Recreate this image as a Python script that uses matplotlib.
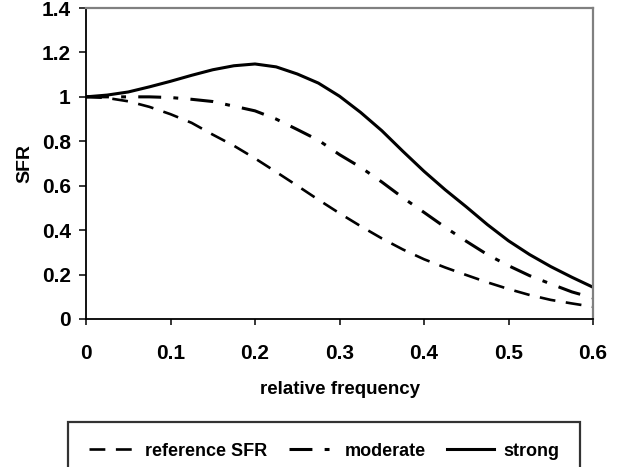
import matplotlib.pyplot as plt

plt.rcParams['font.family'] = ['Liberation Sans', 'DejaVu Sans']
plt.rcParams['font.weight'] = 'bold'

# values
freq = [0, 0.025, 0.05, 0.075, 0.1, 0.125, 0.15, 0.175, 0.2, 0.225, 0.25, 0.275, 0.3,
        0.325, 0.35, 0.375, 0.4, 0.425, 0.45, 0.475, 0.5, 0.525, 0.55, 0.575, 0.6]
sfr_ref = [1.000, 0.995, 0.980, 0.955, 0.922, 0.883, 0.830, 0.780, 0.723, 0.662, 0.600,
           0.537, 0.476, 0.418, 0.363, 0.313, 0.269, 0.232, 0.198, 0.165, 0.135, 0.108,
           0.086, 0.070, 0.055]
sfr_moderate = [1.000, 1.000, 1.000, 1.000, 0.997, 0.989, 0.979, 0.958, 0.937, 0.900,
                0.853, 0.805, 0.740, 0.683, 0.617, 0.546, 0.480, 0.413, 0.350, 0.290,
                0.240, 0.195, 0.158, 0.122, 0.095]
sfr_strong = [1.000, 1.008, 1.022, 1.045, 1.070, 1.097, 1.122, 1.140, 1.148, 1.135, 1.103,
              1.062, 1.003, 0.930, 0.848, 0.755, 0.665, 0.582, 0.505, 0.425, 0.352, 0.290,
              0.236, 0.188, 0.143]

x_ticks = [0, 0.1, 0.2, 0.3, 0.4, 0.5, 0.6]
y_ticks = [0, 0.2, 0.4, 0.6, 0.8, 1.0, 1.2, 1.4]
y_labels = ['0', '0.2', '0.4', '0.6', '0.8', '1', '1.2', '1.4']

fig = plt.figure(figsize=(6.2, 4.67), dpi=100)
ax = fig.add_axes([86 / 620, 1 - 319 / 467, 507 / 620, 311 / 467])

ax.plot(freq, sfr_ref, color='black', lw=1.9, dashes=(6, 4), label='reference SFR')
ax.plot(freq, sfr_moderate, color='black', lw=2.2, dashes=(7.5, 4, 1.6, 4), label='moderate')
ax.plot(freq, sfr_strong, color='black', lw=2.2, label='strong')

ax.set_xlim(0, 0.6)
ax.set_ylim(0, 1.4)
ax.set_xticks(x_ticks)
ax.set_xticklabels([str(v) for v in x_ticks])
ax.set_yticks(y_ticks)
ax.set_yticklabels(y_labels)
ax.tick_params(axis='y', direction='out', length=5, width=1.1, labelsize=15, pad=6)
ax.tick_params(axis='x', direction='out', length=4, width=1.1, labelsize=15, pad=14)

for s in ['left', 'bottom']:
    ax.spines[s].set_color('black')
    ax.spines[s].set_linewidth(1.3)
for s in ['top', 'right']:
    ax.spines[s].set_color('#808080')
    ax.spines[s].set_linewidth(1.6)

ax.set_xlabel('relative frequency', fontsize=13.5, fontweight='bold', labelpad=13)
ax.set_ylabel('SFR', fontsize=14, fontweight='bold', labelpad=6)

leg = fig.legend(loc='upper left', ncol=3, mode='expand',
                 bbox_to_anchor=(68 / 620, 1 - 480 / 467, 512 / 620, 58 / 467),
                 borderaxespad=0, fontsize=13, frameon=True, fancybox=False,
                 handlelength=2.6, handletextpad=0.5, borderpad=1.15, columnspacing=1.0)
leg.get_frame().set_edgecolor('black')
leg.get_frame().set_linewidth(1.6)

fig.savefig('out.png', dpi=100)
